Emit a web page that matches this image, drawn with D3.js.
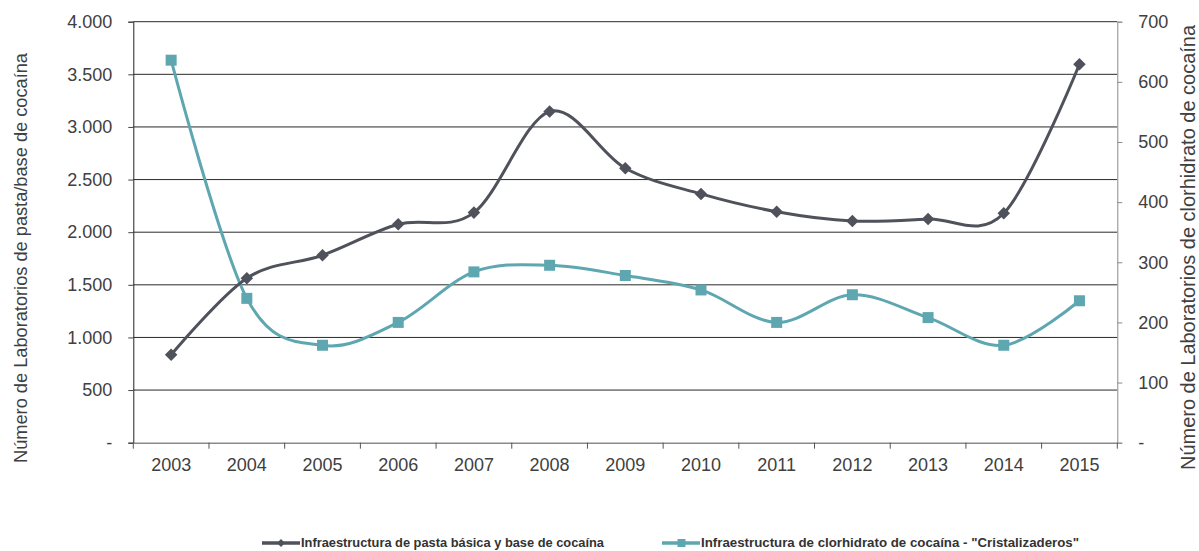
<!DOCTYPE html>
<html><head><meta charset="utf-8">
<script src="https://cdn.jsdelivr.net/npm/d3@7"></script>
<style>
body{margin:0;background:#fff;}
text{font-family:"Liberation Sans",Arial,sans-serif;}
</style></head><body>
<svg id="c" width="1199" height="551"></svg>
<script>
const years = ["2003","2004","2005","2006","2007","2008","2009","2010","2011","2012","2013","2014","2015"];
const pastaBase = [835,1563,1781,2075,2186,3146,2608,2364,2195,2107,2126,2180,3596];
const clorhidrato = [636,240,162,200,284,295,278,254,200,246,208,162,236];
const leftTicks = [0,500,1000,1500,2000,2500,3000,3500,4000];
const rightTicks = [0,100,200,300,400,500,600,700];
const seriesNames = ["Infraestructura de pasta básica y base de cocaína","Infraestructura de clorhidrato de cocaína - \"Cristalizaderos\""];
const leftTitle = "Número de Laboratorios de pasta/base de cocaína";
const rightTitle = "Número de Laboratorios de clorhidrato de cocaína";

const svg = d3.select("#c");
const L = 133.3, R = 1117.3, T = 21.7, B = 442.7;
const x = d3.scaleBand().domain(years).range([L, R]);
const yL = d3.scaleLinear().domain([0,4000]).range([B, T]);
const yR = d3.scaleLinear().domain([0,700]).range([B, T]);
const fmt = v => v === 0 ? "-" : d3.format(",")(v).replace(/,/g, ".");
const darkC = "#4f525b", tealC = "#5ea7b1";
const labelC = "#404040";

// gridlines
svg.append("g").selectAll("line").data(leftTicks.slice(1)).join("line")
  .attr("x1", L).attr("x2", R).attr("y1", d => yL(d)).attr("y2", d => yL(d))
  .attr("stroke", "#2a2a2a").attr("stroke-width", 1);

// left axis
const gl = svg.append("g").attr("transform", `translate(${L},0)`)
  .call(d3.axisLeft(yL).tickValues(leftTicks).tickFormat(fmt).tickSize(5).tickPadding(16));
gl.select(".domain").attr("stroke", "#222");
gl.selectAll(".tick line").attr("stroke", "#444");
gl.selectAll("text").attr("font-size", 18).attr("fill", labelC).attr("font-family", "Liberation Sans, Arial, sans-serif");

// right axis
const gr = svg.append("g").attr("transform", `translate(${R},0)`)
  .call(d3.axisRight(yR).tickValues(rightTicks).tickFormat(fmt).tickSize(5).tickPadding(16));
gr.select(".domain").attr("stroke", "#8a8a8a");
gr.selectAll(".tick line").attr("stroke", "#8a8a8a");
gr.selectAll("text").attr("font-size", 18).attr("fill", labelC).attr("font-family", "Liberation Sans, Arial, sans-serif");

// bottom axis
const gb = svg.append("g").attr("transform", `translate(0,${B})`)
  .call(d3.axisBottom(x).tickSize(0).tickPadding(16));
gb.select(".domain").attr("stroke", "#8a8a8a").attr("stroke-width", 1.5);
gb.selectAll("text").attr("font-size", 18).attr("fill", labelC).attr("font-family", "Liberation Sans, Arial, sans-serif");
const bounds = years.map(d => x(d)).concat([R]);
svg.append("g").selectAll("line").data(bounds).join("line")
  .attr("x1", d => d).attr("x2", d => d).attr("y1", B).attr("y2", B + 6)
  .attr("stroke", "#555").attr("stroke-width", 1);

// titles
svg.append("text").attr("transform", `translate(27,258) rotate(-90)`)
  .attr("text-anchor", "middle").attr("font-size", 18).attr("fill", labelC)
  .attr("textLength", 410).attr("lengthAdjust", "spacingAndGlyphs").text(leftTitle);
svg.append("text").attr("transform", `translate(1195,247.5) rotate(-90)`)
  .attr("text-anchor", "middle").attr("font-size", 19.5).attr("fill", labelC)
  .attr("textLength", 445).attr("lengthAdjust", "spacingAndGlyphs").text(rightTitle);

const cx = d => x(d) + x.bandwidth() / 2;
const curve = d3.curveCatmullRom.alpha(0);

// clorhidrato series
const lineR = d3.line().x((d, i) => cx(years[i])).y(d => yR(d)).curve(curve);
svg.append("path").attr("d", lineR(clorhidrato)).attr("fill", "none")
  .attr("stroke", tealC).attr("stroke-width", 3);
svg.append("g").selectAll("rect").data(clorhidrato).join("rect")
  .attr("x", (d, i) => cx(years[i]) - 5.5).attr("y", d => yR(d) - 5.5)
  .attr("width", 11).attr("height", 11).attr("fill", tealC);

// pasta base series
const lineL = d3.line().x((d, i) => cx(years[i])).y(d => yL(d)).curve(curve);
svg.append("path").attr("d", lineL(pastaBase)).attr("fill", "none")
  .attr("stroke", darkC).attr("stroke-width", 3);
const diamond = d3.symbol().type(d3.symbolDiamond2).size(100);
svg.append("g").selectAll("path").data(pastaBase).join("path")
  .attr("transform", (d, i) => `translate(${cx(years[i])},${yL(d)})`)
  .attr("d", diamond).attr("fill", darkC);

// legend
const legend = [
  {name: seriesNames[0], color: darkC, x0: 262, type: "d", len: 303},
  {name: seriesNames[1], color: tealC, x0: 662, type: "s", len: 378}
];
const lg = svg.append("g");
legend.forEach(l => {
  const yy = 543;
  lg.append("line").attr("x1", l.x0).attr("x2", l.x0 + 38).attr("y1", yy).attr("y2", yy)
    .attr("stroke", l.color).attr("stroke-width", 3.3);
  if (l.type === "d") {
    lg.append("path").attr("transform", `translate(${l.x0 + 19},${yy})`)
      .attr("d", d3.symbol().type(d3.symbolDiamond2).size(40)).attr("fill", l.color);
  } else {
    lg.append("rect").attr("x", l.x0 + 15.5).attr("y", yy - 4).attr("width", 8).attr("height", 8).attr("fill", l.color);
  }
  lg.append("text").attr("x", l.x0 + 39).attr("y", yy + 4.3)
    .attr("font-family", "'Liberation Sans Narrow', 'Liberation Sans', Arial, sans-serif")
    .attr("font-weight", "bold").attr("font-size", 13.2).attr("fill", "#333")
    .attr("textLength", l.len).attr("lengthAdjust", "spacingAndGlyphs").text(l.name);
});
</script>
</body></html>
